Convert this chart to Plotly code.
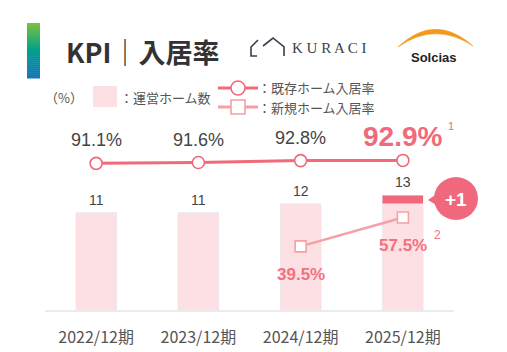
import plotly.graph_objects as go

# ---------------- data ----------------
periods = ["2022/12期", "2023/12期", "2024/12期", "2025/12期"]
homes_base = [11, 11, 12, 12]          # 運営ホーム数 (existing part)
homes_added = [0, 0, 0, 1]             # newly added home (+1)
homes_total = [11, 11, 12, 13]
occ_existing = [91.1, 91.6, 92.8, 92.9]   # 既存ホーム入居率
occ_new = [None, None, 39.5, 57.5]        # 新規ホーム入居率
occ_existing_labels = ["91.1%", "91.6%", "92.8%", "92.9%"]
occ_new_labels = [None, None, "39.5%", "57.5%"]

# ---------------- styles ----------------
W, H = 507, 352
ML, MR, MT, MB = 45, 53, 110, 42
PW, PH = W - ML - MR, H - MT - MB

PINK_BAR = "#fde0e4"
RED = "#f0687b"
LINE1 = "#f06a7a"
LINE2 = "#f5a0a4"
TXT = "#444444"
TXT2 = "#555555"
NUMFONT = "Liberation Sans, Arial, sans-serif"
JPFONT = "Noto Sans CJK JP, sans-serif"


def px(x):
    return (x - ML) / PW


def py(y):
    return (H - MB - y) / PH


fig = go.Figure()

fig.add_trace(go.Bar(x=periods, y=homes_base, marker_color=PINK_BAR, width=0.4,
                     yaxis="y", hoverinfo="skip", showlegend=False))
fig.add_trace(go.Bar(x=periods, y=homes_added, marker_color=RED, width=0.4,
                     yaxis="y", hoverinfo="skip", showlegend=False))

fig.add_trace(go.Scatter(x=periods, y=occ_existing, yaxis="y2", mode="lines+markers",
                         line=dict(color=LINE1, width=3),
                         marker=dict(symbol="circle", size=12, color="white",
                                     line=dict(color=LINE1, width=1.6)),
                         showlegend=False, hoverinfo="skip"))
fig.add_trace(go.Scatter(x=periods, y=occ_new, yaxis="y2", mode="lines+markers",
                         line=dict(color=LINE2, width=2.5),
                         marker=dict(symbol="square", size=11, color="white",
                                     line=dict(color=LINE2, width=1.6)),
                         showlegend=False, hoverinfo="skip", connectgaps=False))

annotations = []
# bar value labels
for p, v in zip(periods, homes_total):
    annotations.append(dict(x=p, y=v, xref="x", yref="y", text=str(v), showarrow=False,
                            yshift=13, font=dict(family=NUMFONT, size=14, color=TXT)))
# existing occupancy labels
for i, (p, v, t) in enumerate(zip(periods, occ_existing, occ_existing_labels)):
    if i == len(periods) - 1:
        annotations.append(dict(x=p, y=v, xref="x", yref="y2", text="<b>" + t + "</b>",
                                showarrow=False, yshift=24,
                                font=dict(family=NUMFONT, size=28, color=LINE1)))
        annotations.append(dict(x=p, y=v, xref="x", yref="y2", text="1", showarrow=False,
                                xshift=48, yshift=34,
                                font=dict(family=NUMFONT, size=11, color=LINE1)))
    else:
        annotations.append(dict(x=p, y=v, xref="x", yref="y2", text=t, showarrow=False,
                                yshift=23, font=dict(family=NUMFONT, size=18, color=TXT)))
# new occupancy labels
for i, (p, v, t) in enumerate(zip(periods, occ_new, occ_new_labels)):
    if v is None:
        continue
    annotations.append(dict(x=p, y=v, xref="x", yref="y2", text="<b>" + t + "</b>",
                            showarrow=False, yshift=-28,
                            font=dict(family=NUMFONT, size=17, color="#f2717f")))
    if i == len(periods) - 1:
        annotations.append(dict(x=p, y=v, xref="x", yref="y2", text="2", showarrow=False,
                                xshift=35, yshift=-18,
                                font=dict(family=NUMFONT, size=12, color="#f2717f")))


def ann_px(x, y, text, font, xanchor="left"):
    return dict(x=px(x), y=py(y), xref="paper", yref="paper", xanchor=xanchor,
                yanchor="middle", text=text, showarrow=False, font=font)


# +1 badge text
annotations.append(ann_px(456, 199, "<b>+1</b>",
                          dict(family=NUMFONT, size=19, color="white"), "center"))
# title & logos
annotations.append(ann_px(64, 52, "<b>KPI｜入居率</b>",
                          dict(family=JPFONT, size=27, color="#333333")))
annotations.append(ann_px(290, 48, "K U R A C I",
                          dict(family="Liberation Serif, serif", size=15, color="#3a3f4f")))
annotations.append(ann_px(434, 57, "<b>Solcias</b>",
                          dict(family=NUMFONT, size=13, color="#222222"), "center"))
# legend texts
annotations.append(ann_px(43, 97, "（%）", dict(family=JPFONT, size=13, color=TXT2)))
annotations.append(ann_px(118, 97, "：運営ホーム数", dict(family=JPFONT, size=13, color=TXT2)))
annotations.append(ann_px(256, 88, "：既存ホーム入居率", dict(family=JPFONT, size=13, color=TXT2)))
annotations.append(ann_px(256, 107, "：新規ホーム入居率", dict(family=JPFONT, size=13, color=TXT2)))

shapes = []
# gradient accent bar
top_c = (120, 192, 66)
mid_c = (0, 160, 140)
bot_c = (22, 118, 184)
y0, y1 = 23, 78
n = 28
for k in range(n):
    t = k / (n - 1)
    if t < 0.5:
        a, b, u = top_c, mid_c, t / 0.5
    else:
        a, b, u = mid_c, bot_c, (t - 0.5) / 0.5
    c = tuple(int(a[j] + (b[j] - a[j]) * u) for j in range(3))
    ya = y0 + (y1 - y0) * k / n
    yb = y0 + (y1 - y0) * (k + 1) / n + 0.5
    shapes.append(dict(type="rect", xref="paper", yref="paper", x0=px(27), x1=px(40),
                       y0=py(yb), y1=py(ya), fillcolor="rgb(%d,%d,%d)" % c, line_width=0))


def path_px(pts, close=False):
    s = "M " + " L ".join("%.4f,%.4f" % (px(x), py(y)) for x, y in pts)
    return s + (" Z" if close else "")


# KURACI house icon
shapes.append(dict(type="path", xref="paper", yref="paper",
                   path=path_px([(257, 56), (251, 56), (251, 47), (258, 40)]),
                   line=dict(color="#3a3f4f", width=1.6)))
shapes.append(dict(type="path", xref="paper", yref="paper",
                   path=path_px([(263, 46), (273, 38), (284, 47), (284, 56)]),
                   line=dict(color="#3a3f4f", width=1.6)))
# Solcias arc (crescent)
arc = "M %.4f,%.4f Q %.4f,%.4f %.4f,%.4f Q %.4f,%.4f %.4f,%.4f Z" % (
    px(398), py(47), px(435), py(12), px(473), py(46), px(435), py(21), px(398), py(47))
shapes.append(dict(type="path", xref="paper", yref="paper", path=arc,
                   fillcolor="#f39a1e", line=dict(color="#f39a1e", width=0.5)))

# legend shapes
shapes.append(dict(type="rect", xref="paper", yref="paper", x0=px(93), x1=px(117),
                   y0=py(107), y1=py(86), fillcolor=PINK_BAR, line_width=0))
shapes.append(dict(type="line", xref="paper", yref="paper", x0=px(218), x1=px(258),
                   y0=py(88), y1=py(88), line=dict(color=LINE1, width=3)))
shapes.append(dict(type="circle", xref="paper", yref="paper", x0=px(231), x1=px(245),
                   y0=py(95), y1=py(81), fillcolor="white", line=dict(color=LINE1, width=1.6)))
shapes.append(dict(type="line", xref="paper", yref="paper", x0=px(218), x1=px(258),
                   y0=py(107), y1=py(107), line=dict(color=LINE2, width=3)))
shapes.append(dict(type="rect", xref="paper", yref="paper", x0=px(231), x1=px(245),
                   y0=py(114), y1=py(100), fillcolor="white", line=dict(color=LINE2, width=1.6)))

# +1 badge
shapes.append(dict(type="circle", xref="paper", yref="paper", x0=px(434), x1=px(478),
                   y0=py(220), y1=py(177), fillcolor=RED, line_width=0))
shapes.append(dict(type="path", xref="paper", yref="paper",
                   path=path_px([(438, 193), (428, 200), (438, 206)], close=True),
                   fillcolor=RED, line_width=0))

fig.update_layout(
    width=W, height=H,
    margin=dict(l=ML, r=MR, t=MT, b=MB, autoexpand=False),
    paper_bgcolor="white", plot_bgcolor="white",
    barmode="stack", bargap=0.6,
    showlegend=False,
    xaxis=dict(type="category", range=[-0.5, 3.5], showgrid=False, zeroline=False,
               showline=True, linecolor="#ebebeb", linewidth=2,
               ticks="", ticklabelstandoff=12, automargin=False,
               tickfont=dict(family=JPFONT, size=16, color=TXT2), fixedrange=True),
    yaxis=dict(range=[0, PH / 8.84], visible=False, fixedrange=True, automargin=False),
    yaxis2=dict(range=[0, PH / 1.61], overlaying="y", visible=False, fixedrange=True,
                automargin=False),
    annotations=annotations,
    shapes=shapes,
)

fig.write_html("out.html")
